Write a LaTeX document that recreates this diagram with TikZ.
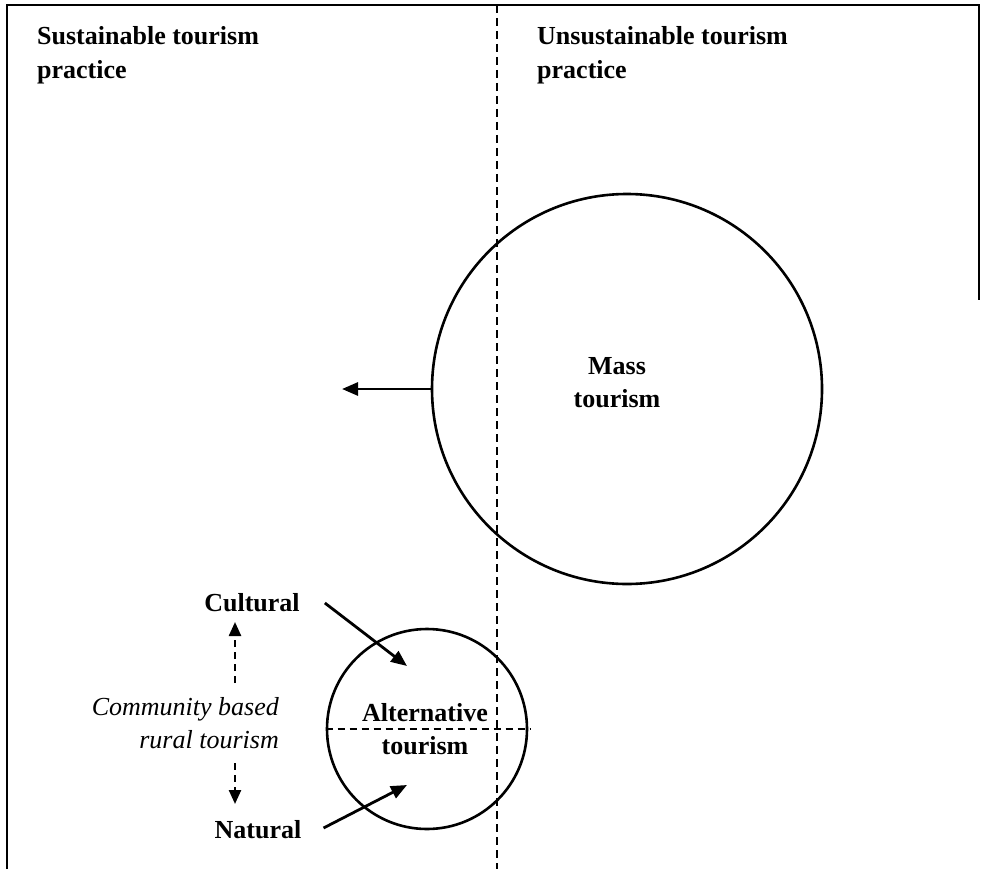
\documentclass[tikz,border=0pt]{standalone}
\usepackage{fontspec}
\setmainfont{Liberation Serif}
\usetikzlibrary{arrows.meta}
\begin{document}
\begin{tikzpicture}[x=1pt,y=-1pt,
  frame/.style={line width=2.8pt},
  divider/.style={line width=2.2pt, dash pattern=on 8pt off 5pt},
  circ/.style={draw, circle, line width=2.6pt, inner sep=0pt},
  hdr/.style={font=\bfseries\fontsize{26}{34}\selectfont, inner sep=0pt, align=left},
  lbl/.style={font=\bfseries\fontsize{26}{33}\selectfont, inner sep=0pt, align=center},
  itl/.style={font=\itshape\fontsize{26}{33}\selectfont, inner sep=0pt, align=right},
  arr/.style={line width=2.8pt, -{Triangle[length=16pt,width=13pt]}},
  darr/.style={line width=2.4pt, dash pattern=on 7pt off 5pt, -{Triangle[length=14pt,width=12pt]}},
  hdash/.style={line width=2.2pt, dash pattern=on 7pt off 5pt}]
\useasboundingbox (0,0) rectangle (981,869);
% frame
\draw[frame] (7,869) -- (7,5) -- (979,5) -- (979,300);
% divider
\coordinate (dtop) at (497,5);
\coordinate (dbot) at (497,869);
\draw[divider] (dtop) -- (dbot);
% headers
\node[hdr, anchor=north west] (sus) at (37,26) {Sustainable tourism\\practice};
\node[hdr, anchor=north west] (uns) at (537,26) {Unsustainable tourism\\practice};
% mass tourism
\node[circ, minimum size=390pt] (mass) at (627,389) {};
\node[lbl] (masst) at (617,383) {Mass\\tourism};
\coordinate (lt) at (342,389);
\draw[arr] (mass.west) -- (lt);
% alternative tourism
\node[circ, minimum size=200pt] (alt) at (427,729) {};
\draw[hdash] (alt.west) -- ([xshift=3pt]alt.east);
\node[lbl] (altt) at (425,729) {Alternative\\tourism};
% labels
\node[lbl] (cult) at (252,603) {Cultural};
\node[lbl] (nat) at (258,830) {Natural};
\node[itl, anchor=east] (comm) at (279,723) {Community based\\rural tourism};
% arrows into small circle
\coordinate (ct) at (407,666);
\coordinate (nt) at (407,785);
\draw[arr] ([xshift=25pt]cult.east) -- (ct);
\draw[arr] ([shift={(22,-2)}]nat.east) -- (nt);
% dashed vertical arrows
\coordinate (us) at (235,683);
\coordinate (ue) at (235,622);
\coordinate (ds) at (235,763);
\coordinate (de) at (235,804);
\draw[darr] (us) -- (ue);
\draw[darr] (ds) -- (de);
\end{tikzpicture}
\end{document}
